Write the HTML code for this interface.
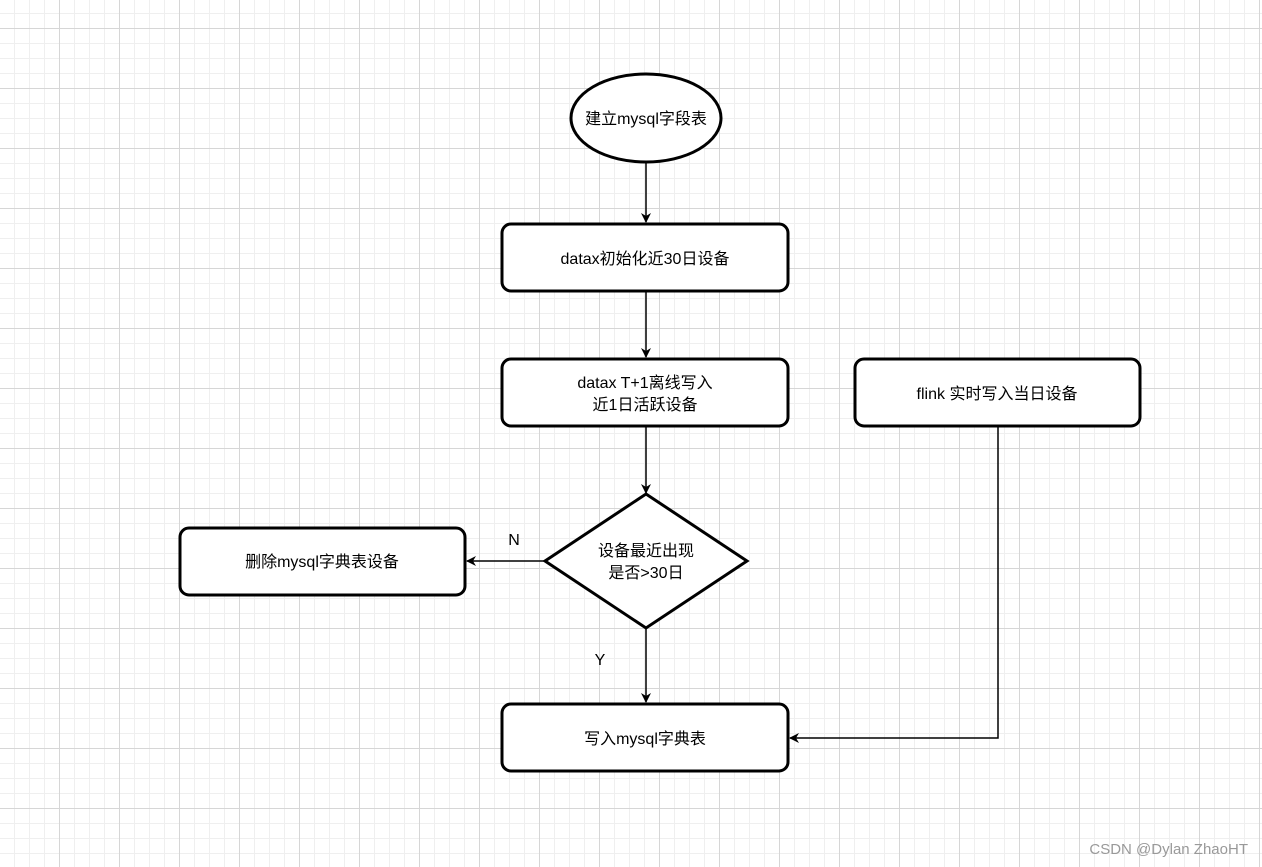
<!DOCTYPE html>
<html><head><meta charset="utf-8"><style>
html,body{margin:0;padding:0}
body{width:1262px;height:867px;overflow:hidden;background:#fff}
</style></head><body>
<svg width="1262" height="867" xmlns="http://www.w3.org/2000/svg" style="display:block;font-family:'Liberation Sans','Noto Sans CJK SC',sans-serif">
<defs>
<pattern id="mi" x="14" y="13" width="15" height="15" patternUnits="userSpaceOnUse"><path d="M0.5 0V15M0 0.5H15" stroke="#efefef" stroke-width="1" fill="none"/></pattern>
<pattern id="ma" x="59" y="28" width="60" height="60" patternUnits="userSpaceOnUse"><path d="M0.5 0V60M0 0.5H60" stroke="#d6d6d6" stroke-width="1" fill="none"/></pattern>
<marker id="ar" markerWidth="10" markerHeight="10" refX="9" refY="5" orient="auto" markerUnits="userSpaceOnUse"><path d="M0 0L10 5L0 10L3 5Z" fill="#000"/></marker>
</defs>
<rect width="1262" height="867" fill="url(#mi)"/>
<rect width="1262" height="867" fill="url(#ma)"/>
<g stroke="#000" stroke-width="1.5" fill="none">
<line x1="646" y1="162" x2="646" y2="222" marker-end="url(#ar)"/>
<line x1="646" y1="292" x2="646" y2="357" marker-end="url(#ar)"/>
<line x1="646" y1="427" x2="646" y2="493" marker-end="url(#ar)"/>
<line x1="545" y1="561" x2="467" y2="561" marker-end="url(#ar)"/>
<line x1="646" y1="628" x2="646" y2="702" marker-end="url(#ar)"/>
<polyline points="998,427 998,738 790,738" marker-end="url(#ar)"/>
</g>
<g stroke="#000" stroke-width="3" fill="#fff">
<ellipse cx="646" cy="118" rx="75" ry="44"/>
<rect x="502" y="224" width="286" height="67" rx="9"/>
<rect x="502" y="359" width="286" height="67" rx="9"/>
<rect x="855" y="359" width="285" height="67" rx="9"/>
<rect x="180" y="528" width="285" height="67" rx="9"/>
<rect x="502" y="704" width="286" height="67" rx="9"/>
<polygon points="646,494 747,561 646,628 545,561"/>
</g>
<g font-size="16" fill="#000" text-anchor="middle">
<text x="646" y="124">建立mysql字段表</text>
<text x="645" y="264">datax初始化近30日设备</text>
<text x="645" y="388">datax T+1离线写入</text>
<text x="645" y="410">近1日活跃设备</text>
<text x="997" y="399">flink 实时写入当日设备</text>
<text x="322" y="567">删除mysql字典表设备</text>
<text x="646" y="556">设备最近出现</text>
<text x="646" y="578">是否&gt;30日</text>
<text x="645" y="744">写入mysql字典表</text>
<text x="514" y="545">N</text>
<text x="600" y="665">Y</text>
</g>
<text x="1248" y="854" font-size="15" fill="#999" text-anchor="end" font-family="'Liberation Sans',sans-serif">CSDN @Dylan ZhaoHT</text>
</svg>
</body></html>
